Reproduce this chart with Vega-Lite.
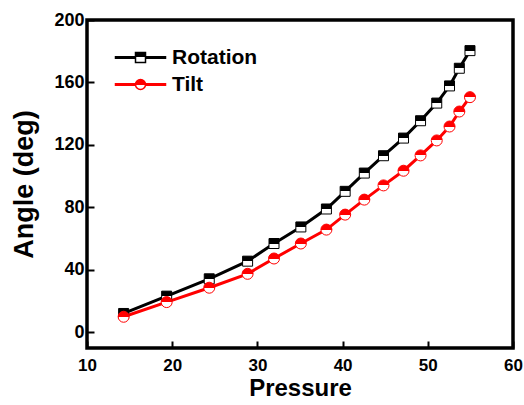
{
  "$schema": "https://vega.github.io/schema/vega-lite/v6.json",
  "width": 426,
  "height": 328,
  "autosize": {"type": "none"},
  "padding": {"left": 87, "top": 20, "right": 11, "bottom": 57},
  "background": "white",
  "config": {
    "font": "Liberation Sans",
    "view": {"stroke": "black", "strokeWidth": 3.5},
    "axis": {
      "grid": false,
      "domain": false,
      "labelFlush": false,
      "tickColor": "black",
      "tickWidth": 2,
      "tickSize": -7,
      "labelFont": "Liberation Sans",
      "labelFontWeight": "bold",
      "labelFontSize": 18,
      "labelColor": "black",
      "titleFont": "Liberation Sans",
      "titleFontWeight": "bold",
      "titleFontSize": 27,
      "titleColor": "black"
    }
  },
  "data": {
    "values": [
      {"pressure": 14.3, "series": "Rotation", "angle": 12.1},
      {"pressure": 19.35, "series": "Rotation", "angle": 23.2},
      {"pressure": 24.35, "series": "Rotation", "angle": 34.3},
      {"pressure": 28.85, "series": "Rotation", "angle": 45.6},
      {"pressure": 31.95, "series": "Rotation", "angle": 56.9},
      {"pressure": 35.1, "series": "Rotation", "angle": 67.5},
      {"pressure": 38.1, "series": "Rotation", "angle": 79.0},
      {"pressure": 40.3, "series": "Rotation", "angle": 90.3},
      {"pressure": 42.55, "series": "Rotation", "angle": 102.0},
      {"pressure": 44.8, "series": "Rotation", "angle": 113.1},
      {"pressure": 47.15, "series": "Rotation", "angle": 124.4},
      {"pressure": 49.15, "series": "Rotation", "angle": 135.5},
      {"pressure": 51.05, "series": "Rotation", "angle": 146.8},
      {"pressure": 52.55, "series": "Rotation", "angle": 157.8},
      {"pressure": 53.7, "series": "Rotation", "angle": 169.1},
      {"pressure": 54.95, "series": "Rotation", "angle": 180.4},
      {"pressure": 14.3, "series": "Tilt", "angle": 10.0},
      {"pressure": 19.35, "series": "Tilt", "angle": 19.4},
      {"pressure": 24.35, "series": "Tilt", "angle": 28.6},
      {"pressure": 28.85, "series": "Tilt", "angle": 37.5},
      {"pressure": 31.95, "series": "Tilt", "angle": 47.3},
      {"pressure": 35.1, "series": "Tilt", "angle": 56.9},
      {"pressure": 38.1, "series": "Tilt", "angle": 65.8},
      {"pressure": 40.3, "series": "Tilt", "angle": 75.4},
      {"pressure": 42.55, "series": "Tilt", "angle": 85.0},
      {"pressure": 44.8, "series": "Tilt", "angle": 94.1},
      {"pressure": 47.15, "series": "Tilt", "angle": 103.5},
      {"pressure": 49.15, "series": "Tilt", "angle": 113.3},
      {"pressure": 51.05, "series": "Tilt", "angle": 122.9},
      {"pressure": 52.55, "series": "Tilt", "angle": 131.8},
      {"pressure": 53.7, "series": "Tilt", "angle": 141.4},
      {"pressure": 54.95, "series": "Tilt", "angle": 150.6}
    ]
  },
  "encoding": {
    "x": {
      "field": "pressure",
      "type": "quantitative",
      "scale": {"domain": [10, 60], "nice": false, "zero": false},
      "axis": {"values": [10, 20, 30, 40, 50, 60], "title": "Pressure", "labelPadding": 16, "labelFontSize": 17, "titlePadding": 3, "titleFontSize": 24}
    },
    "y": {
      "field": "angle",
      "type": "quantitative",
      "scale": {"domain": [-10, 200], "nice": false, "zero": false},
      "axis": {"values": [0, 40, 80, 120, 160, 200], "title": "Angle (deg)", "labelPadding": 10, "titlePadding": 15}
    }
  },
  "layer": [
    {
      "mark": {"type": "line", "strokeWidth": 3},
      "encoding": {
        "color": {
          "field": "series",
          "type": "nominal",
          "scale": {"domain": ["Rotation", "Tilt"], "range": ["black", "#ff0000"]},
          "legend": {
            "title": null,
            "orient": "none",
            "legendX": 43,
            "legendY": 27,
            "padding": 0,
            "labelFont": "Liberation Sans",
            "labelFontWeight": "bold",
            "labelFontSize": 21,
            "labelColor": "black",
            "labelOffset": 21,
            "rowPadding": 5,
            "symbolSize": 100,
            "symbolStrokeWidth": 1.5,
            "encode": {
              "symbols": {
                "update": {
                  "shape": {"signal": "datum.value === 'Rotation' ? 'M-5,-0.15H-1V0.15H-5Z M1,-0.15H5V0.15H1Z M-1,-1H1V1H-1Z' : 'M-5,-0.15H-1V0.15H-5Z M1,-0.15H5V0.15H1Z M-1,0A1,1 0 1,1 1,0A1,1 0 1,1 -1,0Z'"},
                  "fill": {"signal": "datum.value === 'Rotation' ? {'gradient': 'linear', 'x1': 0, 'y1': 0, 'x2': 0, 'y2': 1, 'stops': [{'offset': 0, 'color': 'black'}, {'offset': 0.5, 'color': 'black'}, {'offset': 0.5, 'color': 'white'}, {'offset': 1, 'color': 'white'}]} : {'gradient': 'linear', 'x1': 0, 'y1': 0, 'x2': 0, 'y2': 1, 'stops': [{'offset': 0, 'color': '#ff0000'}, {'offset': 0.5, 'color': '#ff0000'}, {'offset': 0.5, 'color': 'white'}, {'offset': 1, 'color': 'white'}]}"},
                  "stroke": {"signal": "datum.value === 'Rotation' ? 'black' : '#ff0000'"},
                  "strokeWidth": {"value": 1.5},
                  "opacity": {"value": 1}
                }
              }
            }
          }
        }
      }
    },
    {
      "transform": [{"filter": "datum.series === 'Rotation'"}],
      "mark": {
        "type": "point",
        "shape": "square",
        "size": 100,
        "filled": true,
        "opacity": 1,
        "fill": {"gradient": "linear", "x1": 0, "y1": 0, "x2": 0, "y2": 1, "stops": [{"offset": 0, "color": "black"}, {"offset": 0.5, "color": "black"}, {"offset": 0.5, "color": "white"}, {"offset": 1, "color": "white"}]},
        "stroke": "black",
        "strokeWidth": 1
      }
    },
    {
      "transform": [{"filter": "datum.series === 'Tilt'"}],
      "mark": {
        "type": "point",
        "shape": "circle",
        "size": 121,
        "filled": true,
        "opacity": 1,
        "fill": {"gradient": "linear", "x1": 0, "y1": 0, "x2": 0, "y2": 1, "stops": [{"offset": 0, "color": "#ff0000"}, {"offset": 0.5, "color": "#ff0000"}, {"offset": 0.5, "color": "white"}, {"offset": 1, "color": "white"}]},
        "stroke": "#ff0000",
        "strokeWidth": 1
      }
    }
  ]
}
